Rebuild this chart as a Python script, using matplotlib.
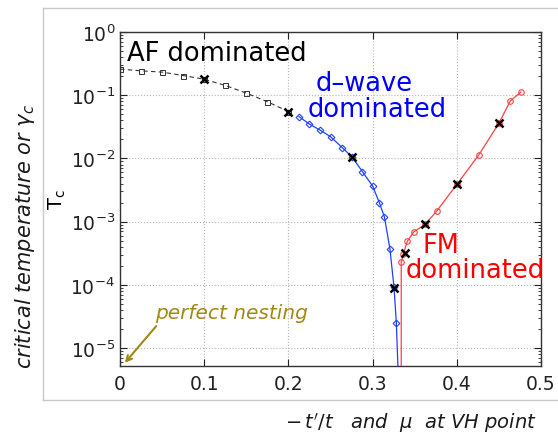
import matplotlib
matplotlib.use('Agg')
import matplotlib.pyplot as plt
from matplotlib.lines import Line2D

# AF dominated branch (squares, dashed)
af_x = [0, 0.025, 0.05, 0.075, 0.1, 0.125, 0.15, 0.175, 0.2]
af_tc = [0.259, 0.243, 0.232, 0.205, 0.179, 0.143, 0.108, 0.079, 0.055]

# d-wave branch (diamonds); last point only continues the line to the floor
dw_x = [0.2125, 0.225, 0.2375, 0.25, 0.264, 0.276, 0.288, 0.30, 0.308,
        0.314, 0.3206, 0.3254, 0.3282, 0.332]
dw_tc = [0.0459, 0.0349, 0.0281, 0.0221, 0.0148, 0.0104, 0.00615, 0.00366,
         0.0020, 0.00119, 3.7e-4, 9.2e-5, 2.5e-5, 1e-6]

# FM branch (circles); first point only drops the line to the floor
fm_x = [0.334, 0.334, 0.3365, 0.3413, 0.349, 0.3625, 0.376, 0.40, 0.426,
        0.45, 0.4635, 0.476]
fm_tc = [1e-7, 2.3e-4, 3.1e-4, 4.9e-4, 6.9e-4, 9.1e-4, 1.46e-3, 3.87e-3,
         0.0113, 0.036, 0.081, 0.112]

# crosses
cr_x = [0.1, 0.2, 0.275, 0.3250, 0.338, 0.3625, 0.40, 0.45]
cr_tc = [0.179, 0.055, 0.0104, 8.8e-5, 3.2e-4, 9.1e-4, 3.87e-3, 0.036]

xticks = [0, 0.1, 0.2, 0.3, 0.4, 0.5]
xticklabels = ['0', '0.1', '0.2', '0.3', '0.4', '0.5']

HAND = '#1a1a1a'
OLIVE = '#a08a14'

fig = plt.figure(figsize=(5.58, 4.39), dpi=100)
ax = fig.add_axes([120 / 558, 1 - 367 / 439, 421 / 558, 334 / 439])

ax.plot(af_x, af_tc, color='#333333', ls=(0, (4, 3)), lw=0.8,
        marker='s', ms=3.6, mfc='none', mec='#333333', mew=0.7)
ax.plot(dw_x, dw_tc, color='#2040ff', lw=0.9, marker='D', ms=3.4,
        mfc='none', mec='#2040ff', mew=0.8, markevery=slice(0, -1))
ax.plot(fm_x, fm_tc, color='#ff4040', lw=0.9, marker='o', ms=4.0,
        mfc='none', mec='#ff4040', mew=0.8, markevery=slice(1, None))
ax.plot(cr_x, cr_tc, ls='none', marker='x', ms=6, mew=1.8, color='black')

ax.set_yscale('log')
ax.set_xlim(0, 0.5)
ax.set_ylim(5.2e-6, 1)
ax.set_xticks(xticks)
ax.set_xticklabels(xticklabels)
ax.grid(True, which='major', ls=':', color='#b5b5b5', lw=0.8)
ax.tick_params(which='both', direction='in', top=True, right=True,
               labelsize=13.5, colors='#222222', labelcolor='#222222')
ax.tick_params(which='major', length=5)
ax.tick_params(which='minor', length=2.5)
ax.tick_params(axis='x', pad=6)
for s in ax.spines.values():
    s.set_color('#333333')
    s.set_linewidth(1.0)

ax.set_ylabel(r'$\mathrm{T_c}$', fontsize=14, labelpad=2)

ax.text(0.0085, 0.363, 'AF dominated', fontsize=18.5, color='black',
        va='baseline', ha='left')
ax.text(0.232, 0.1215, 'd\u2013wave', fontsize=18.5, color='blue',
        va='baseline', ha='left')
ax.text(0.2226, 0.0464, 'dominated', fontsize=18.5, color='blue',
        va='baseline', ha='left')
ax.text(0.3595, 3.3e-4, 'FM', fontsize=18.5, color='red',
        va='baseline', ha='left')
ax.text(0.3393, 1.34e-4, 'dominated', fontsize=18.5, color='red',
        va='baseline', ha='left')

# handwritten-style notes
ax.text(0.0420, 3.6e-5, 'perfect nesting', fontsize=14.5, color=OLIVE,
        va='center', ha='left', fontstyle='italic')
ax.annotate('', xy=(0.0036, 5.4e-6), xytext=(158, 439 - 325),
            textcoords='figure pixels', annotation_clip=False,
            arrowprops=dict(arrowstyle='->', color=OLIVE, lw=1.5))

fig.text(25 / 558, 1 - 236 / 439, r'critical temperature or $\gamma_c$',
         rotation=90, ha='center', va='center', fontsize=15, color=HAND,
         fontstyle='italic')
fig.text(411 / 558, 1 - 423 / 439, r"$-\,t'/t$   and  $\mu$  at VH point",
         ha='center', va='center', fontsize=14, color=HAND,
         fontstyle='italic')

# light frame of the original exported figure
fx0, fx1 = 43 / 558, 1.0
fy0, fy1 = 1 - 401 / 439, 1 - 9 / 439
frame_kw = dict(color='#c8c8c8', lw=1.0, transform=fig.transFigure)
fig.lines.append(Line2D([fx0, fx1], [fy1, fy1], **frame_kw))
fig.lines.append(Line2D([fx0, fx1], [fy0, fy0], **frame_kw))
fig.lines.append(Line2D([fx0, fx0], [fy0, fy1], **frame_kw))

fig.savefig('out.png', dpi=100)
